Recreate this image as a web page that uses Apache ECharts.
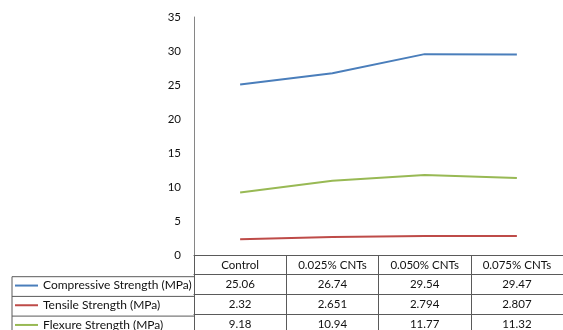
<!DOCTYPE html>
<html>
<head>
<meta charset="utf-8">
<script src="https://cdn.jsdelivr.net/npm/echarts@6/dist/echarts.min.js"></script>
<style>
  html, body { margin: 0; padding: 0; background: #fff; }
  #chart { width: 563px; height: 330px; }
</style>
</head>
<body>
<div id="chart"></div>
<script>
// Mix designs along the x axis
var categories = ['Control', '0.025% CNTs', '0.050% CNTs', '0.075% CNTs'];

// Strength results per mix (MPa)
var compressive = [25.06, 26.74, 29.54, 29.47];
var tensile = [2.32, 2.651, 2.794, 2.807];
var flexure = [9.18, 10.94, 11.77, 11.32];

// Series names and table cell text
var seriesNames = ['Compressive Strength (MPa)', 'Tensile Strength (MPa)', 'Flexure Strength (MPa)'];
var tableRows = [
  ['25.06', '26.74', '29.54', '29.47'],
  ['2.32', '2.651', '2.794', '2.807'],
  ['9.18', '10.94', '11.77', '11.32']
];

// Y axis ticks
var yMin = 0, yMax = 35, yStep = 5;

var colors = ['#4a7ebb', '#be4b48', '#98b954'];
var font = 'Lato, "Open Sans", sans-serif';
var lineCol = '#5a5a5a';

var gridLeft = 194, gridTop = 17, gridWidth = 380, gridHeight = 240;
var rowH = 19.7;

// One category axis per table row: its axis line is the row's top border,
// its ticks are the cell separators and its labels are the cell texts.
function tableAxis(k, labels) {
  return {
    type: 'category',
    gridIndex: 0,
    position: 'bottom',
    offset: k * rowH,
    data: categories,
    boundaryGap: true,
    axisLine: { show: true, lineStyle: { color: lineCol, width: 1 } },
    axisTick: { show: true, inside: false, length: rowH, alignWithLabel: false,
                lineStyle: { color: lineCol, width: 1 } },
    axisLabel: {
      show: true, interval: 0, margin: rowH / 2, verticalAlign: 'middle',
      color: '#111', fontFamily: font, fontSize: 11.5,
      formatter: function (v, i) { return labels ? labels[i] : v; }
    },
    splitLine: { show: false }
  };
}

var xAxes = [tableAxis(0, null)];
tableRows.forEach(function (row, k) { xAxes.push(tableAxis(k + 1, row)); });

// One single-entry legend per table row, so each swatch sits in its own row
var legends = seriesNames.map(function (name, k) {
  return {
    data: [name],
    left: 15,
    top: gridTop + gridHeight + rowH * (k + 1.5) - 7,
    padding: 0,
    orient: 'horizontal',
    icon: 'rect',
    itemWidth: 23,
    itemHeight: 2,
    selectedMode: false,
    textStyle: { color: '#111', fontFamily: font, fontSize: 12 }
  };
});

var series = [compressive, tensile, flexure].map(function (vals, k) {
  return {
    name: seriesNames[k],
    type: 'line',
    xAxisIndex: 0,
    yAxisIndex: 0,
    data: vals,
    showSymbol: false,
    symbol: 'none',
    lineStyle: { color: colors[k], width: 2 },
    itemStyle: { color: colors[k] },
    animation: false
  };
});

// Border lines of the row-header column
var tableTop = gridTop + gridHeight + rowH;
var leftX = 12;
var borders = [];
for (var r = 0; r <= 3; r++) {
  borders.push({
    type: 'line',
    shape: { x1: leftX, y1: tableTop + r * rowH, x2: gridLeft, y2: tableTop + r * rowH },
    style: { stroke: lineCol, lineWidth: 1 }
  });
}
borders.push({
  type: 'line',
  shape: { x1: leftX, y1: tableTop, x2: leftX, y2: 330 },
  style: { stroke: lineCol, lineWidth: 1 }
});

var chart = echarts.init(document.getElementById('chart'), null, { renderer: 'canvas' });
chart.setOption({
  animation: false,
  backgroundColor: '#fff',
  grid: { left: gridLeft, top: gridTop, width: gridWidth, height: gridHeight, containLabel: false },
  xAxis: xAxes,
  yAxis: {
    type: 'value',
    min: yMin, max: yMax, interval: yStep,
    axisLine: { show: true, lineStyle: { color: '#868686', width: 1 } },
    axisTick: { show: false },
    splitLine: { show: false },
    axisLabel: { color: '#111', fontFamily: font, fontSize: 11.5, margin: 13 }
  },
  legend: legends,
  series: series,
  graphic: borders
});
</script>
</body>
</html>
